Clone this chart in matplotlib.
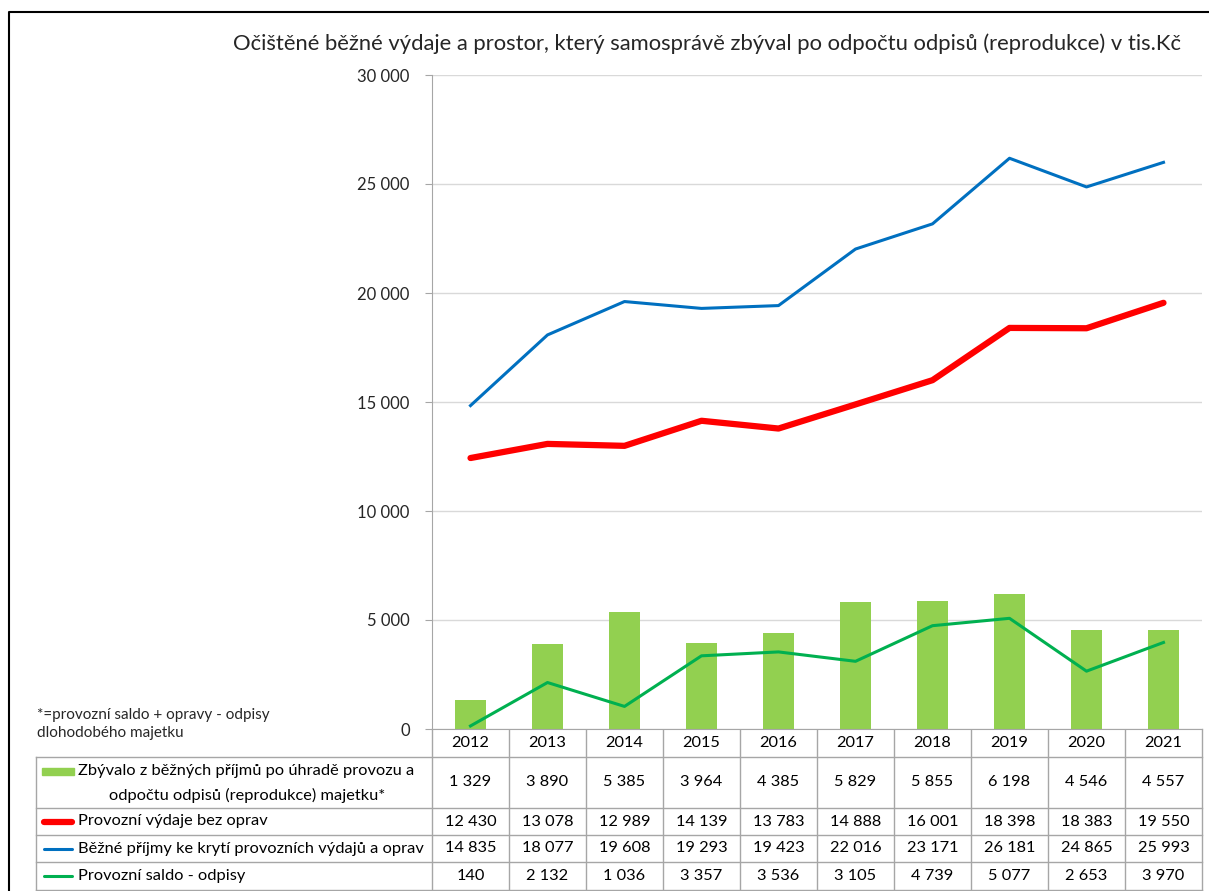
import matplotlib.pyplot as plt
from matplotlib.ticker import FuncFormatter, MultipleLocator

plt.rcParams["font.family"] = ["Lato", "DejaVu Sans"]

years = ["2012", "2013", "2014", "2015", "2016", "2017", "2018", "2019", "2020", "2021"]
zbyvalo = [1329, 3890, 5385, 3964, 4385, 5829, 5855, 6198, 4546, 4557]
vydaje = [12430, 13078, 12989, 14139, 13783, 14888, 16001, 18398, 18383, 19550]
prijmy = [14835, 18077, 19608, 19293, 19423, 22016, 23171, 26181, 24865, 25993]
saldo = [140, 2132, 1036, 3357, 3536, 3105, 4739, 5077, 2653, 3970]

title = "Očištěné běžné výdaje a prostor, který samosprávě zbýval po odpočtu odpisů (reprodukce) v tis.Kč"
footnote = "*=provozní saldo + opravy - odpisy\ndlohodobého majetku"
row_labels = [
    "Zbývalo z běžných příjmů po úhradě provozu a\nodpočtu odpisů (reprodukce) majetku*",
    "Provozní výdaje bez oprav",
    "Běžné příjmy ke krytí provozních výdajů a oprav",
    "Provozní saldo - odpisy",
]

C_BAR = "#92D050"
C_RED = "#FF0000"
C_BLUE = "#0070C0"
C_GREEN = "#00B050"
C_GRID = "#D9D9D9"
C_LINE = "#A6A6A6"
C_TEXT = "#262626"

W, H = 1209, 891
fig = plt.figure(figsize=(W / 100, H / 100), dpi=100)

# overlay axes in pixel coordinates for border + data table
ov = fig.add_axes([0, 0, 1, 1])
ov.set_xlim(0, W)
ov.set_ylim(H, 0)
ov.axis("off")

# main chart area (pixels)
left, right, top, bottom = 432, 1202, 75, 729
ax = fig.add_axes([left / W, 1 - bottom / H, (right - left) / W, (bottom - top) / H])

x = list(range(len(years)))
ax.bar(x, zbyvalo, width=0.4, color=C_BAR, zorder=2)
ax.plot(x, vydaje, color=C_RED, linewidth=4.5, solid_capstyle="round", zorder=3)
ax.plot(x, prijmy, color=C_BLUE, linewidth=2.2, zorder=3)
ax.plot(x, saldo, color=C_GREEN, linewidth=2.2, zorder=3)

ax.set_xlim(-0.5, len(years) - 0.5)
ax.set_ylim(0, 30000)
ax.yaxis.set_major_locator(MultipleLocator(5000))
ax.yaxis.set_major_formatter(FuncFormatter(lambda v, p: f"{v:,.0f}".replace(",", " ")))
ax.tick_params(axis="y", length=5, color=C_LINE, labelsize=12, labelcolor=C_TEXT, pad=11)
ax.set_xticks([])
ax.grid(axis="y", color=C_GRID, linewidth=1, zorder=0)
for s in ["top", "right"]:
    ax.spines[s].set_visible(False)
ax.spines["left"].set_color(C_LINE)
ax.spines["bottom"].set_color(C_LINE)

fig.text(707 / W, 1 - 44 / H, title, ha="center", va="center", fontsize=15.8, color=C_TEXT)

# figure border
ov.plot([9, 9, W], [H, 12, 12], color="black", linewidth=1.5)

# footnote
ov.text(37, 724, footnote, ha="left", va="center", fontsize=11, color=C_TEXT, linespacing=1.45)

# data table
col_w = (right - left) / len(years)
row_edges = [bottom, 757, 808, 835, 862, 890]
tab_left = 36
for k in range(len(years) + 1):
    xx = left + k * col_w
    ov.plot([xx, xx], [bottom, row_edges[-1]], color=C_LINE, linewidth=1)
for yy in row_edges[1:]:
    ov.plot([tab_left, right], [yy, yy], color=C_LINE, linewidth=1)
ov.plot([tab_left, tab_left], [row_edges[1], row_edges[-1]], color=C_LINE, linewidth=1)

fs = 11.8
fmt = lambda v: f"{v:,.0f}".replace(",", " ")
for i, yr in enumerate(years):
    cx = left + (i + 0.5) * col_w
    ov.text(cx, (row_edges[0] + row_edges[1]) / 2, yr, ha="center", va="center", fontsize=fs, color="black")
    for r, series in enumerate([zbyvalo, vydaje, prijmy, saldo]):
        cy = (row_edges[r + 1] + row_edges[r + 2]) / 2
        ov.text(cx, cy, fmt(series[i]), ha="center", va="center", fontsize=fs, color="black")

# legend keys in the table
cy0 = 771
ov.add_patch(plt.Rectangle((42, cy0 - 3), 32, 7, color=C_BAR))
lines0 = row_labels[0].split("\n")
ov.text(78, cy0, lines0[0], ha="left", va="center", fontsize=fs, color="black")
ov.text(247, 795, lines0[1], ha="center", va="center", fontsize=fs, color="black")
keys = [(C_RED, 4.5), (C_BLUE, 2.2), (C_GREEN, 2.2)]
for r, (c, lw) in enumerate(keys):
    cy = (row_edges[r + 2] + row_edges[r + 3]) / 2
    ov.plot([44, 72], [cy, cy], color=c, linewidth=lw, solid_capstyle="round")
    ov.text(78, cy, row_labels[r + 1], ha="left", va="center", fontsize=fs, color="black")

fig.savefig("out.png", dpi=100)
